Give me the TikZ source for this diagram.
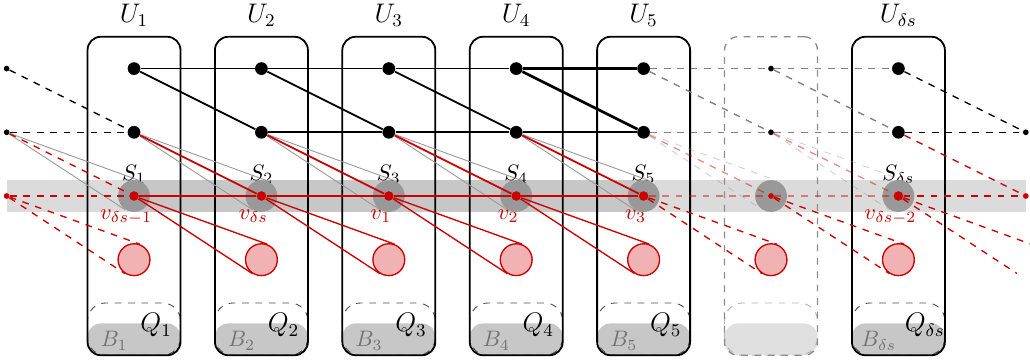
\documentclass[tikz,border=0pt]{standalone}
\usetikzlibrary{calc}
\definecolor{vred}{RGB}{204,0,0}
\tikzset{
  bigdot/.style={circle, fill, inner sep=0pt, minimum size=2mm},
  tinydot/.style={circle, fill, inner sep=0pt, minimum size=0.9mm},
  vdot/.style={circle, fill=vred, inner sep=0pt, minimum size=1.5mm},
  sball/.style={circle, fill=black!40, inner sep=0pt, minimum size=5mm},
  rball/.style={circle, draw=vred, semithick, fill=vred!30, inner sep=0pt, minimum size=5mm},
  ubox/.style={draw, thick, rounded corners=6pt, minimum width=1.46cm, minimum height=5cm},
  lab/.style={inner sep=0pt, anchor=base},
  cone/.style={black!40, thin},
  rcone/.style={vred, semithick},
  ghost/.style={opacity=0.45},
}
\begin{document}
\begin{tikzpicture}
  \useasboundingbox (-2.104,-2.559) rectangle (14.066,3.077);
  \fill[black!14] (-2,-0.245) rectangle (14,0.245);
  \fill[black!22] (0,-0.245) rectangle (8,0.245);

  % the sets U_i, with Q_i and B_i at the bottom
  \foreach \i/\l/\w in {1/1/\delta s-1,2/2/\delta s,3/3/1,4/4/2,5/5/3,7/\delta s/\delta s-2} {
    \fill[black!22, rounded corners=6pt] (2*\i-2.73,-2.5) rectangle (2*\i-1.27,-2);
    \draw[dashed, black!70, rounded corners=8pt] (2*\i-2.73,-2.5) rectangle (2*\i-1.27,-1.68);
    \node[ubox] (u\i) at (2*\i-2,0) {};
    \node[lab] (ul\i) at (2*\i-2,2.72) {\large$U_{\l}$};
    \node[lab, anchor=base west] (q\i) at (2*\i-1.906,-2.135) {\large$Q_{\l}$};
    \node[lab, text=black!55] (b\i) at (2*\i-2.31,-2.37) {$B_{\l}$};
    \node[lab] (sl\i) at (2*\i-2,0.25) {$S_{\l}$};
    \node[lab, text=vred] (vl\i) at (2*\i-2.125,-0.37) {$v_{\w}$};
    }
  % the empty one
  \fill[black!12, rounded corners=6pt] (9.27,-2.5) rectangle (10.73,-2);
  \draw[dashed, black!30, rounded corners=8pt] (9.27,-2.5) rectangle (10.73,-1.68);
  \node[ubox, semithick, dashed, black!45] (u6) at (10,0) {};

  \foreach \i in {1,...,7} {
    \node[sball] (s\i) at (2*\i-2,0) {};
    \node[rball] (r\i) at (2*\i-2,-1) {};
    }
  \node[circle, inner sep=0pt, minimum size=5mm] (r8) at (14,-1) {};

  \foreach \i in {1,2,3,4,5,7} {
    \node[bigdot] (t\i) at (2*\i-2,2) {};
    \node[bigdot] (m\i) at (2*\i-2,1) {};
    \node[vdot] (v\i) at (2*\i-2,0) {};
    }
  \foreach \i in {0,6} {
    \node[tinydot] (t\i) at (2*\i-2,2) {};
    \node[tinydot] (m\i) at (2*\i-2,1) {};
    \node[tinydot, fill=vred] (v\i) at (2*\i-2,0) {};
    }
  \node[tinydot] (m8) at (14,1) {};
  \node[tinydot, fill=vred] (v8) at (14,0) {};

  % cones to S_i and to the red balls
  \foreach[evaluate=\i as \j using int(\i+1)] \i in {0,...,4} {
    \draw[cone] (m\i) -- (tangent cs:node=s\j,point={(m\i)},solution=1);
    \draw[cone] (m\i) -- (tangent cs:node=s\j,point={(m\i)},solution=2);
    }
  \foreach[evaluate=\i as \j using int(\i+1)] \i in {5,6} {
    \draw[cone, dashed, ghost] (m\i) -- (tangent cs:node=s\j,point={(m\i)},solution=1);
    \draw[cone, dashed, ghost] (m\i) -- (tangent cs:node=s\j,point={(m\i)},solution=2);
    }
  \foreach[evaluate=\i as \j using int(\i+1)] \i in {1,...,4} {
    \draw[rcone] (v\i) -- (tangent cs:node=r\j,point={(v\i)},solution=1);
    \draw[rcone] (v\i) -- (tangent cs:node=r\j,point={(v\i)},solution=2);
    \draw[thick, vred] (m\i) -- (v\j);
    }
  \foreach[evaluate=\i as \j using int(\i+1)] \i in {0,5,6,7} {
    \draw[rcone, dashed] (v\i) -- (tangent cs:node=r\j,point={(v\i)},solution=1);
    \draw[rcone, dashed] (v\i) -- (tangent cs:node=r\j,point={(v\i)},solution=2);
    }
  \draw[semithick, vred, dashed] (m0) -- (v1);
  \draw[semithick, vred, dashed] (m7) -- (v8);
  \draw[semithick, vred, dashed, ghost] (m5) -- (v6);
  \draw[semithick, vred, dashed, ghost] (m6) -- (v7);

  \draw[thick, vred] (v1) -- (v2) -- (v3) -- (v4);
  \draw[very thick, vred] (v4) -- (v5);
  \draw[semithick, vred, dashed] (v0) -- (v1);
  \draw[semithick, vred, dashed, ghost] (v5) -- (v6) -- (v7);
  \draw[semithick, vred, dashed] (v7) -- (v8);

  % black edges
  \draw[thick] (t1) -- (t2) -- (t3) -- (t4);
  \draw[thick] (m2) -- (m3) -- (m4) -- (m5);
  \foreach[evaluate=\i as \j using int(\i+1)] \i in {1,2,3} {
    \draw[thick] (t\i) -- (m\j);
    }
  \draw[very thick] (t4) -- (t5);
  \draw[very thick] (t4) -- (m5);
  \draw[semithick, dashed] (t0) -- (m1);
  \draw[semithick, dashed] (m0) -- (m1);
  \draw[semithick, dashed] (t7) -- (m8);
  \draw[semithick, dashed] (m7) -- (m8);
  \draw[semithick, dashed, black!50] (t5) -- (t6) -- (t7);
  \draw[semithick, dashed, black!50] (m5) -- (m6) -- (m7);
  \draw[semithick, dashed, black!50] (t5) -- (m6);
  \draw[semithick, dashed, black!50] (t6) -- (m7);
\end{tikzpicture}
\end{document}
